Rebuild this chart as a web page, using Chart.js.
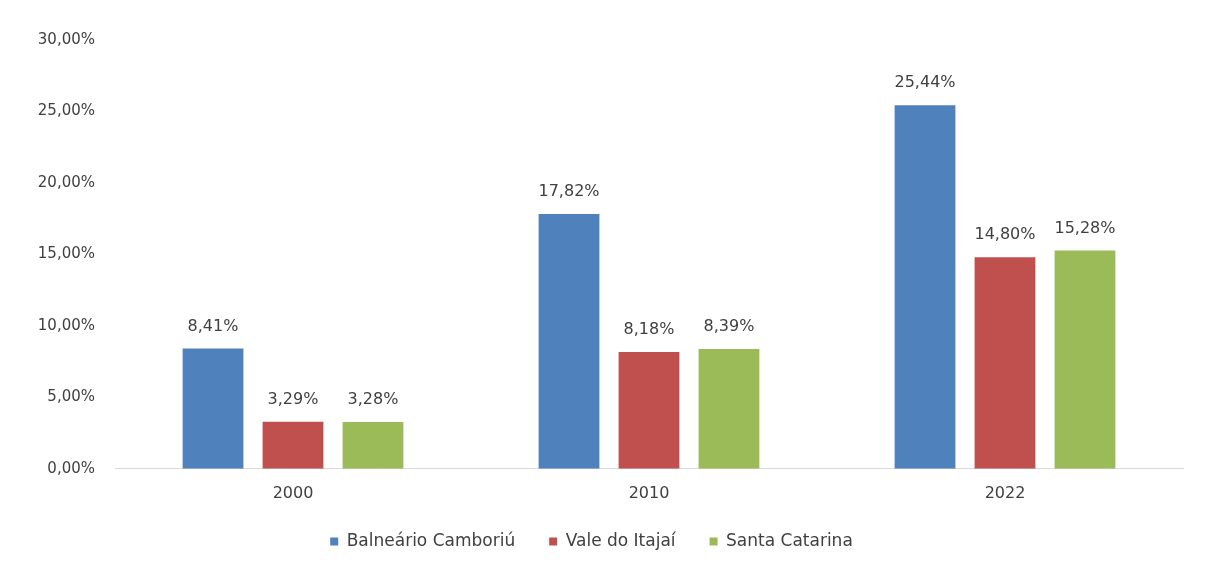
<!DOCTYPE html>
<html>
<head>
<meta charset="utf-8">
<script src="https://cdn.jsdelivr.net/npm/chart.js@4/dist/chart.umd.min.js"></script>
<style>
  html, body { margin: 0; padding: 0; background: #fff; }
  #wrap { width: 1213px; height: 572px; }
</style>
</head>
<body>
<div id="wrap"><canvas id="chart" width="1213" height="572"></canvas></div>
<script>
// valores
var anos = ['2000', '2010', '2022'];
var balneario = [8.41, 17.82, 25.44];
var vale = [3.29, 8.18, 14.80];
var santaCatarina = [3.28, 8.39, 15.28];

var fonte = '"DejaVu Sans", "Liberation Sans", sans-serif';

function pct(v) {
    return v.toFixed(2).replace('.', ',') + '%';
}

// rótulos em cima das barras
var rotulos = {
    id: 'rotulos',
    afterDatasetsDraw: function (chart) {
        var ctx = chart.ctx;
        ctx.save();
        ctx.font = '16px ' + fonte;
        ctx.fillStyle = '#404040';
        ctx.textAlign = 'center';
        ctx.textBaseline = 'middle';
        chart.data.datasets.forEach(function (ds, i) {
            chart.getDatasetMeta(i).data.forEach(function (bar, j) {
                ctx.fillText(pct(ds.data[j]), bar.x, bar.y - 22);
            });
        });
        ctx.restore();
    }
};

var ctx = document.getElementById('chart').getContext('2d');
new Chart(ctx, {
    type: 'bar',
    data: {
        labels: anos,
        datasets: [
            { label: 'Balneário Camboriú', data: balneario, backgroundColor: '#4F81BD' },
            { label: 'Vale do Itajaí', data: vale, backgroundColor: '#C0504D' },
            { label: 'Santa Catarina', data: santaCatarina, backgroundColor: '#9BBB59' }
        ]
    },
    options: {
        responsive: false,
        animation: false,
        layout: { padding: { left: 0, right: 30, top: 40, bottom: 12 } },
        datasets: {
            bar: { categoryPercentage: 0.674, barPercentage: 0.76 }
        },
        plugins: {
            legend: {
                position: 'bottom',
                labels: {
                    boxWidth: 8,
                    boxHeight: 8,
                    color: '#404040',
                    font: { family: fonte, size: 17 },
                    padding: 34
                }
            },
            tooltip: { enabled: false }
        },
        scales: {
            x: {
                grid: { display: false, drawTicks: false },
                border: { color: '#d9d9d9', width: 1 },
                afterFit: function (scale) { scale.height -= 19; },
                ticks: {
                    color: '#404040',
                    padding: 15,
                    font: { family: fonte, size: 16 }
                }
            },
            y: {
                min: 0,
                max: 30,
                grid: { display: false, drawTicks: false },
                border: { display: false },
                afterFit: function (scale) { scale.width = 115; },
                ticks: {
                    stepSize: 5,
                    padding: 20,
                    color: '#404040',
                    font: { family: fonte, size: 15 },
                    callback: function (v) { return pct(v); }
                }
            }
        }
    },
    plugins: [rotulos]
});
</script>
</body>
</html>
